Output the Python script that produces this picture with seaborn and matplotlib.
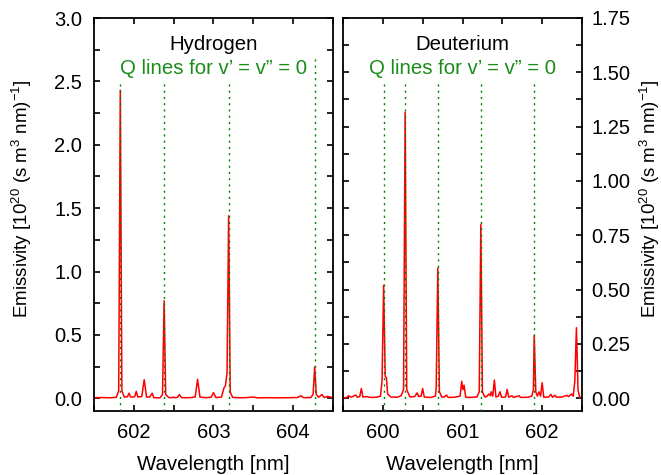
import matplotlib
matplotlib.use("Agg")
import matplotlib.pyplot as plt
import seaborn as sns
import pandas as pd
from matplotlib.ticker import MultipleLocator, FormatStrFormatter

# ---------------- data ----------------
h_wavelength = [601.50, 601.60, 601.70, 601.78, 601.81, 601.83, 601.85, 601.88, 601.92, 601.94,
                601.96, 602.01, 602.03, 602.05, 602.10, 602.13, 602.16, 602.20, 602.23, 602.25,
                602.33, 602.36, 602.38, 602.40, 602.44, 602.48, 602.50, 602.52, 602.55, 602.57,
                602.60, 602.70, 602.77, 602.80, 602.83, 602.90, 602.97, 603.00, 603.03, 603.10,
                603.13, 603.15, 603.17, 603.19, 603.21, 603.24, 603.30, 603.40, 603.50, 603.55,
                603.70, 603.80, 603.95, 604.05, 604.10, 604.13, 604.22, 604.25, 604.27, 604.29,
                604.32, 604.36, 604.39, 604.43, 604.47, 604.50]
h_emissivity = [0.005, 0.006, 0.004, 0.008, 0.06, 2.43, 0.06, 0.01, 0.012, 0.04,
                0.01, 0.012, 0.055, 0.01, 0.015, 0.147, 0.01, 0.01, 0.04, 0.005,
                0.004, 0.03, 0.77, 0.03, 0.006, 0.005, 0.01, 0.004, 0.008, 0.03,
                0.005, 0.005, 0.01, 0.15, 0.01, 0.005, 0.008, 0.045, 0.006, 0.01,
                0.08, 0.1, 0.2, 1.44, 0.05, 0.008, 0.005, 0.005, 0.01, 0.004,
                0.005, 0.004, 0.005, 0.006, 0.02, 0.005, 0.006, 0.03, 0.247, 0.03,
                0.008, 0.03, 0.006, 0.015, 0.01, 0.004]

d_wavelength = [599.50, 599.55, 599.57, 599.60, 599.66, 599.68, 599.71, 599.73, 599.75, 599.80,
                599.85, 599.92, 599.97, 599.99, 600.01, 600.03, 600.045, 600.06, 600.10, 600.18,
                600.23, 600.26, 600.28, 600.30, 600.34, 600.40, 600.43, 600.45, 600.48, 600.50,
                600.52, 600.60, 600.66, 600.67, 600.69, 600.71, 600.74, 600.77, 600.80, 600.82,
                600.90, 600.97, 600.99, 601.005, 601.02, 601.04, 601.10, 601.18, 601.21, 601.23,
                601.25, 601.28, 601.31, 601.33, 601.35, 601.36, 601.38, 601.40, 601.42, 601.45,
                601.47, 601.49, 601.54, 601.56, 601.58, 601.62, 601.64, 601.71, 601.73, 601.82,
                601.87, 601.89, 601.90, 601.92, 601.94, 601.96, 601.98, 602.00, 602.02, 602.08,
                602.11, 602.13, 602.16, 602.18, 602.25, 602.31, 602.33, 602.37, 602.39, 602.41,
                602.43, 602.45, 602.47, 602.50]
d_emissivity = [0.0, 0.005, 0.012, 0.005, 0.015, 0.005, 0.008, 0.045, 0.006, 0.008,
                0.004, 0.005, 0.01, 0.08, 0.52, 0.1, 0.095, 0.02, 0.006, 0.005,
                0.012, 0.04, 1.317, 0.04, 0.006, 0.008, 0.025, 0.008, 0.01, 0.045,
                0.006, 0.004, 0.01, 0.05, 0.60, 0.03, 0.006, 0.006, 0.015, 0.004,
                0.005, 0.01, 0.078, 0.04, 0.06, 0.005, 0.004, 0.006, 0.03, 0.80,
                0.03, 0.006, 0.01, 0.02, 0.012, 0.03, 0.01, 0.084, 0.006, 0.01,
                0.03, 0.005, 0.006, 0.041, 0.005, 0.012, 0.004, 0.012, 0.004, 0.005,
                0.01, 0.04, 0.29, 0.03, 0.01, 0.03, 0.01, 0.072, 0.005, 0.006,
                0.018, 0.005, 0.014, 0.005, 0.006, 0.014, 0.008, 0.02, 0.01, 0.08,
                0.325, 0.04, 0.005, 0.005]

h_q_lines = [601.83, 602.38, 603.19, 604.27]
h_q_tops = [2.50, 2.50, 2.50, 2.69]
d_q_lines = [600.01, 600.28, 600.69, 601.23, 601.90]
d_q_tops = [1.465, 1.465, 1.465, 1.465, 1.465]

h_xticks = [602, 603, 604]
d_xticks = [600, 601, 602]

h_df = pd.DataFrame({"Wavelength": h_wavelength, "Emissivity": h_emissivity})
d_df = pd.DataFrame({"Wavelength": d_wavelength, "Emissivity": d_emissivity})

# ---------------- style ----------------
sns.set_theme(style="ticks")
plt.rcParams["font.family"] = ["Liberation Sans", "DejaVu Sans"]
plt.rcParams["mathtext.fontset"] = "custom"
plt.rcParams["mathtext.rm"] = "Liberation Sans"
plt.rcParams["mathtext.it"] = "Liberation Sans"
plt.rcParams["text.color"] = "black"
plt.rcParams["axes.labelcolor"] = "black"

W, H = 661, 475
fig = plt.figure(figsize=(W / 100, H / 100), dpi=100)
ax1 = fig.add_axes([94 / W, (H - 411) / H, 239 / W, 393 / H])
ax2 = fig.add_axes([343 / W, (H - 411) / H, 239 / W, 393 / H])

red = "#ff0000"
green = "#008000"
text_green = "#1a8c1a"
ylab = r"Emissivity [10$^{20}$ (s m$^{3}$ nm)$^{-1}$]"

sns.lineplot(data=h_df, x="Wavelength", y="Emissivity", ax=ax1, color=red, lw=1.1,
             estimator=None, sort=False)
sns.lineplot(data=d_df, x="Wavelength", y="Emissivity", ax=ax2, color=red, lw=1.1,
             estimator=None, sort=False)

for x, top in zip(h_q_lines, h_q_tops):
    ax1.plot([x, x], [-0.1, top], color=green, lw=1.0, ls=(0, (1.5, 3.0)), zorder=3)
for x, top in zip(d_q_lines, d_q_tops):
    ax2.plot([x, x], [-0.06, top], color=green, lw=1.0, ls=(0, (1.5, 3.0)), zorder=3)

ax1.set_xlim(601.5, 604.5)
ax1.set_ylim(-0.1, 3.0)
ax2.set_xlim(599.5, 602.5)
ax2.set_ylim(-0.1 * 1.75 / 3.0, 1.75)

ax1.set_xticks(h_xticks)
ax2.set_xticks(d_xticks)
for ax in (ax1, ax2):
    ax.xaxis.set_minor_locator(MultipleLocator(0.5))
    ax.tick_params(which="both", direction="in", length=4.5, width=1.2,
                   top=True, right=True, labelsize=14.5, colors="black", pad=8.5)
    for sp in ax.spines.values():
        sp.set_linewidth(1.3)
        sp.set_color("black")
    ax.set_xlabel("Wavelength [nm]", fontsize=14.7, color="black")
    ax.xaxis.set_label_coords(0.5, -0.112)

ax1.yaxis.set_major_locator(MultipleLocator(0.5))
ax1.yaxis.set_minor_locator(MultipleLocator(0.25))
ax1.yaxis.set_major_formatter(FormatStrFormatter("%.1f"))
ax1.set_ylabel(ylab, fontsize=13.5, color="black")
ax1.yaxis.set_label_coords(-0.25, 0.54)

ax2.yaxis.set_major_locator(MultipleLocator(0.25))
ax2.yaxis.set_minor_locator(MultipleLocator(0.125))
ax2.yaxis.set_major_formatter(FormatStrFormatter("%.2f"))
ax2.tick_params(axis="y", which="both", labelleft=False, labelright=True, pad=7)
ax2.yaxis.set_label_position("right")
ax2.set_ylabel(ylab, fontsize=13.5, color="black")
ax2.yaxis.set_label_coords(1.232, 0.54)

for ax, name in ((ax1, "Hydrogen"), (ax2, "Deuterium")):
    ax.text(0.5, 0.9186, name, transform=ax.transAxes, ha="center", va="baseline",
            fontsize=14.7, color="black")
    ax.text(0.5, 0.8575, "Q lines for v’ = v” = 0", transform=ax.transAxes, ha="center",
            va="baseline", fontsize=14.7, color=text_green)

fig.savefig("out.png", dpi=100)
